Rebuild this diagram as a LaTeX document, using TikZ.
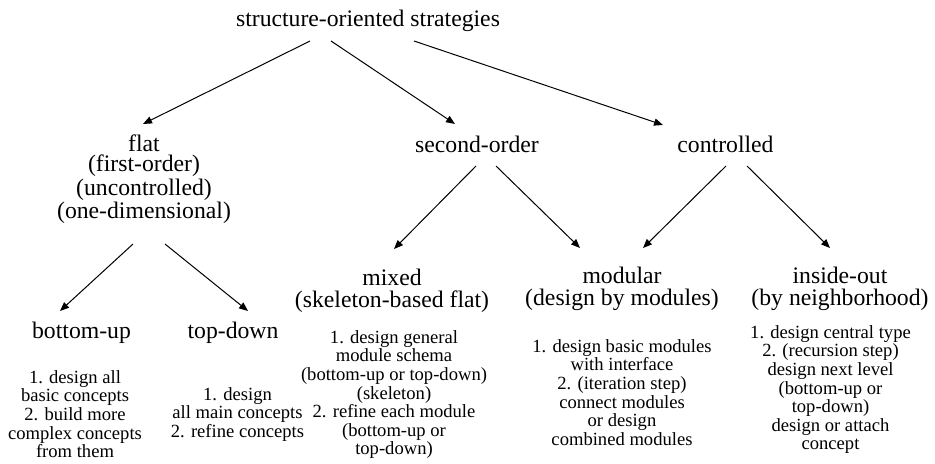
\documentclass[tikz,border=0pt]{standalone}
\usepackage{fontspec}
\setmainfont{Liberation Serif}
\usetikzlibrary{arrows.meta}

\newcommand{\headfont}{\fontsize{11.85}{11.25}\selectfont}
\newcommand{\stepsfont}{\fontsize{9.3}{9.3}\selectfont}

\begin{document}
\begin{tikzpicture}[
    x=0.5pt, y=-0.5pt,
    strat/.style={
        font=\headfont, align=center,
        inner sep=0pt, outer sep=0pt,
    },
    steps/.style={
        font=\stepsfont, align=center, anchor=north,
        inner sep=0pt, outer sep=0pt,
    },
    arr/.style={-{Triangle[length=4.5pt,width=3.6pt]}, line width=0.5pt},
]
\useasboundingbox (0,0) rectangle (935,464);

% -- root --
\node[strat, anchor=base] (root) at (368,27) {structure-oriented strategies};

% -- first level --
\node[strat, anchor=north, font=\fontsize{11.85}{10.15}\selectfont] (flat) at (144,135)
    {flat\\(first-order)\\(uncontrolled)\\(one-dimensional)};
\node[strat, anchor=base] (second) at (477,153) {second-order};
\node[strat, anchor=base] (controlled) at (725.5,153) {controlled};

% -- second level --
\node[strat, anchor=base] (bottomup) at (81.5,338) {bottom-up};
\node[strat, anchor=base] (topdown) at (233,338) {top-down};
\node[strat, anchor=north] (mixed) at (392,269) {mixed\\(skeleton-based flat)};
\node[strat, anchor=north] (modular) at (622,267) {modular\\(design by modules)};
\node[strat, anchor=north] (insideout) at (840,267) {inside-out\\(by neighborhood)};

% -- how each strategy proceeds --
\node[steps] (bottomupsteps) at (75,370.3)
    {1. design all\\basic concepts\\2. build more\\complex concepts\\from them};
\node[steps] (topdownsteps) at (237.5,387.3)
    {1. design\\all main concepts\\2. refine concepts};
\node[steps] (mixedsteps) at (394,330.3)
    {1. design general\\module schema\\(bottom-up or top-down)\\(skeleton)\\2. refine each module\\(bottom-up or\\top-down)};
\node[steps] (modularsteps) at (622,339.3)
    {1. design basic modules\\with interface\\2. (iteration step)\\connect modules\\or design\\combined modules};
\node[steps] (insideoutsteps) at (830.5,325.3)
    {1. design central type\\2. (recursion step)\\design next level\\(bottom-up or\\top-down)\\design or attach\\concept};

% -- arrows --
\draw[arr] ([shift={(-58,14)}]root.base) -- ([shift={(-1,-11)}]flat.north);
\draw[arr] ([shift={(-37,14)}]root.base) -- ([shift={(-22,-29)}]second.base);
\draw[arr] ([shift={(46,14)}]root.base) -- ([shift={(-62.5,-28)}]controlled.base);

\draw[arr] ([shift={(-11,20)}]flat.south) -- ([shift={(-21.5,-27)}]bottomup.base);
\draw[arr] ([shift={(21,20)}]flat.south) -- ([shift={(15,-27)}]topdown.base);

\draw[arr] ([shift={(-1,13)}]second.base) -- ([shift={(2,-20)}]mixed.north);
\draw[arr] ([shift={(19,13)}]second.base) -- ([shift={(-42,-19)}]modular.north);

\draw[arr] ([shift={(0.5,13)}]controlled.base) -- ([shift={(21,-19)}]modular.north);
\draw[arr] ([shift={(21.5,13)}]controlled.base) -- ([shift={(-10,-19)}]insideout.north);

\end{tikzpicture}
\end{document}
